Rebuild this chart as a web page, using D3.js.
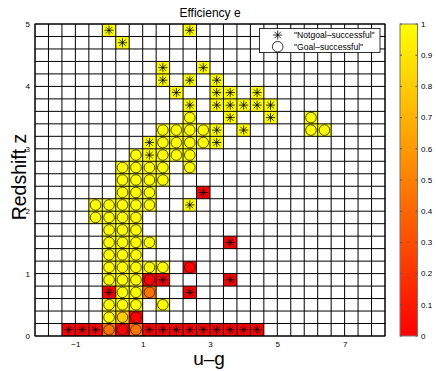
<!DOCTYPE html>
<html>
<head>
<meta charset="utf-8">
<script src="https://cdn.jsdelivr.net/npm/d3@7"></script>
<style>
  body { margin: 0; background: #fff; }
  text { font-family: "Liberation Sans", Arial, sans-serif; }
</style>
</head>
<body>
<div id="chart"></div>
<script>
// bin centres [u-g, z, efficiency]
const notgoalBins = [
    [0.0, 4.9, 1], [2.4, 4.9, 1],
    [0.4, 4.7, 1],
    [1.6, 4.3, 1], [2.8, 4.3, 1],
    [1.6, 4.1, 1], [2.4, 4.1, 1], [3.2, 4.1, 1],
    [2.0, 3.9, 1], [3.2, 3.9, 1], [3.6, 3.9, 1], [4.4, 3.9, 1],
    [2.4, 3.7, 1], [3.2, 3.7, 1], [3.6, 3.7, 1], [4.0, 3.7, 1], [4.4, 3.7, 1], [4.8, 3.7, 1],
    [3.6, 3.5, 1], [4.8, 3.5, 1],
    [3.2, 3.3, 1], [4.0, 3.3, 1],
    [1.2, 3.1, 1], [3.2, 3.1, 1],
    [1.2, 2.9, 1],
    [2.8, 2.3, 0],
    [2.4, 2.1, 1],
    [3.6, 1.5, 0],
    [1.6, 0.9, 0], [3.6, 0.9, 0],
    [0.0, 0.7, 0], [2.4, 0.7, 0],
    [-1.2, 0.1, 0], [-0.8, 0.1, 0], [-0.4, 0.1, 0], [1.2, 0.1, 0], [1.6, 0.1, 0], [2.0, 0.1, 0],
    [2.4, 0.1, 0], [2.8, 0.1, 0], [3.2, 0.1, 0], [3.6, 0.1, 0], [4.0, 0.1, 0], [4.4, 0.1, 0]
];

const goalBins = [
    [2.4, 3.5, 1], [6.0, 3.5, 1],
    [1.6, 3.3, 1], [2.0, 3.3, 1], [2.4, 3.3, 1], [2.8, 3.3, 1], [6.0, 3.3, 1], [6.4, 3.3, 1],
    [1.6, 3.1, 1], [2.0, 3.1, 1], [2.4, 3.1, 1], [2.8, 3.1, 1],
    [0.8, 2.9, 1], [1.6, 2.9, 1], [2.0, 2.9, 1], [2.4, 2.9, 1],
    [0.4, 2.7, 1], [0.8, 2.7, 1], [1.2, 2.7, 1], [1.6, 2.7, 1], [2.4, 2.7, 1],
    [0.4, 2.5, 1], [0.8, 2.5, 1], [1.2, 2.5, 1], [1.6, 2.5, 1],
    [0.4, 2.3, 1], [0.8, 2.3, 1], [1.2, 2.3, 1],
    [-0.4, 2.1, 1], [0.0, 2.1, 1], [0.4, 2.1, 1], [0.8, 2.1, 1], [1.2, 2.1, 1],
    [-0.4, 1.9, 1], [0.0, 1.9, 1], [0.4, 1.9, 1], [0.8, 1.9, 1],
    [0.0, 1.7, 1], [0.4, 1.7, 1], [0.8, 1.7, 1],
    [0.0, 1.5, 1], [0.4, 1.5, 1], [0.8, 1.5, 1], [1.2, 1.5, 1],
    [0.0, 1.3, 1], [0.4, 1.3, 1], [0.8, 1.3, 1],
    [0.0, 1.1, 1], [0.4, 1.1, 1], [0.8, 1.1, 1], [1.2, 1.1, 1], [1.6, 1.1, 1], [2.4, 1.1, 0],
    [0.0, 0.9, 1], [0.4, 0.9, 1], [0.8, 0.9, 1], [1.2, 0.9, 0],
    [0.4, 0.7, 1], [0.8, 0.7, 1], [1.2, 0.7, 0.45],
    [0.0, 0.5, 1], [0.4, 0.5, 1], [0.8, 0.5, 1], [1.6, 0.5, 1],
    [0.0, 0.3, 1], [0.4, 0.3, 0.8], [0.8, 0.3, 0],
    [0.0, 0.1, 0.45], [0.4, 0.1, 0], [0.8, 0.1, 0.45]
];

const xTicks = [-1, 1, 3, 5, 7];
const yTicks = [0, 1, 2, 3, 4, 5];
const cbTicks = [0, 0.1, 0.2, 0.3, 0.4, 0.5, 0.6, 0.7, 0.8, 0.9, 1];
const legendLabels = ['"Notgoal\u2013successful"', '"Goal\u2013successful"'];
const binW = 0.4, binH = 0.2;

const margin = { top: 24, right: 51, bottom: 35, left: 35 },
    width = 436 - margin.left - margin.right,
    height = 371 - margin.top - margin.bottom;

const svg = d3.select("#chart")
    .append("svg")
    .attr("width", 436)
    .attr("height", 371);

const g = svg.append("g")
    .attr("transform", `translate(${margin.left},${margin.top})`);

const x = d3.scaleLinear().domain([-2.2, 8.2]).range([0, width]);
const y = d3.scaleLinear().domain([0, 5]).range([height, 0]);
const color = d3.scaleLinear().domain([0, 1]).range(["#ff0000", "#ffff00"]);

// coloured bins
const allBins = notgoalBins.concat(goalBins);
g.selectAll("rect.bin")
    .data(allBins)
    .join("rect")
    .attr("class", "bin")
    .attr("x", d => x(d[0] - binW / 2))
    .attr("y", d => y(d[1] + binH / 2))
    .attr("width", x(binW) - x(0))
    .attr("height", y(0) - y(binH))
    .attr("fill", d => color(d[2]));

// grid
const xEdges = d3.range(0, 27).map(i => -2.2 + i * binW);
const yEdges = d3.range(0, 26).map(i => i * binH);

g.selectAll("line.vg")
    .data(xEdges)
    .join("line")
    .attr("x1", d => x(d)).attr("x2", d => x(d))
    .attr("y1", 0).attr("y2", height)
    .attr("stroke", "#000")
    .attr("stroke-width", 1);

g.selectAll("line.hg")
    .data(yEdges)
    .join("line")
    .attr("x1", 0).attr("x2", width)
    .attr("y1", d => y(d)).attr("y2", d => y(d))
    .attr("stroke", "#000")
    .attr("stroke-width", 1);

const star = r => {
    const a = r * Math.SQRT1_2;
    return `M${-r},0L${r},0M0,${-r}L0,${r}M${-a},${-a}L${a},${a}M${-a},${a}L${a},${-a}`;
};

g.selectAll("path.ng")
    .data(notgoalBins)
    .join("path")
    .attr("transform", d => `translate(${x(d[0])},${y(d[1])})`)
    .attr("d", star(4.6))
    .attr("fill", "none")
    .attr("stroke", "#000")
    .attr("stroke-width", 0.8);

g.selectAll("circle.gs")
    .data(goalBins)
    .join("circle")
    .attr("cx", d => x(d[0]))
    .attr("cy", d => y(d[1]))
    .attr("r", 5.3)
    .attr("fill", "none")
    .attr("stroke", "#222")
    .attr("stroke-width", 0.8);

// axes labels
g.append("g")
    .attr("transform", `translate(0,${height})`)
    .call(d3.axisBottom(x).tickValues(xTicks).tickFormat(d3.format("d")).tickSize(0).tickPadding(5))
    .call(a => a.select(".domain").remove())
    .selectAll("text")
    .style("font-size", "8px")
    .attr("font-family", null);

g.append("g")
    .call(d3.axisLeft(y).tickValues(yTicks).tickFormat(d3.format("d")).tickSize(0).tickPadding(5))
    .call(a => a.select(".domain").remove())
    .selectAll("text")
    .style("font-size", "8px")
    .attr("font-family", null);

g.append("rect")
    .attr("width", width)
    .attr("height", height)
    .attr("fill", "none")
    .attr("stroke", "#000")
    .attr("stroke-width", 1);

svg.append("text")
    .attr("x", margin.left + width / 2)
    .attr("y", 17)
    .attr("text-anchor", "middle")
    .style("font-size", "12px")
    .text("Efficiency e");

svg.append("text")
    .attr("x", margin.left + width / 2 - 1)
    .attr("y", 365)
    .attr("text-anchor", "middle")
    .style("font-size", "19px")
    .text("u\u2013g");

svg.append("text")
    .attr("transform", "translate(26,177) rotate(-90)")
    .attr("text-anchor", "middle")
    .style("font-size", "19.5px")
    .text("Redshift z");

// legend
const legend = svg.append("g").attr("transform", "translate(259.5,28.5)");
legend.append("rect")
    .attr("width", 120.5)
    .attr("height", 24)
    .attr("fill", "#fff")
    .attr("stroke", "#000")
    .attr("stroke-width", 0.8);
legend.append("path")
    .attr("transform", "translate(18.2,6.5)")
    .attr("d", star(4.6))
    .attr("stroke", "#000")
    .attr("stroke-width", 0.8);
legend.append("circle")
    .attr("cx", 18.2).attr("cy", 18.2).attr("r", 5.3)
    .attr("fill", "none")
    .attr("stroke", "#000")
    .attr("stroke-width", 0.8);
legend.selectAll("text.lg")
    .data(legendLabels)
    .join("text")
    .attr("x", 34.5)
    .attr("y", (d, i) => 9.5 + i * 11.5)
    .style("font-size", "8.6px")
    .text(d => d);

// colorbar
const cbX = 400, cbW = 17.5;
const cb = d3.scaleLinear().domain([0, 1]).range([margin.top + height, margin.top]);

const grad = svg.append("defs").append("linearGradient")
    .attr("id", "cbgrad")
    .attr("x1", 0).attr("y1", 1).attr("x2", 0).attr("y2", 0);
grad.selectAll("stop")
    .data(d3.range(0, 1.01, 0.1))
    .join("stop")
    .attr("offset", d => d)
    .attr("stop-color", d => color(d));

svg.append("rect")
    .attr("x", cbX)
    .attr("y", cb(1))
    .attr("width", cbW)
    .attr("height", cb(0) - cb(1))
    .attr("fill", "url(#cbgrad)")
    .attr("stroke", "#777")
    .attr("stroke-width", 1);

const cbTick = svg.append("g").selectAll("g")
    .data(cbTicks)
    .join("g")
    .attr("transform", d => `translate(0,${cb(d)})`);
cbTick.append("line")
    .attr("x1", cbX).attr("x2", cbX + 2)
    .attr("stroke", "#555");
cbTick.append("line")
    .attr("x1", cbX + cbW - 2).attr("x2", cbX + cbW)
    .attr("stroke", "#555");
cbTick.append("text")
    .attr("x", cbX + cbW + 3.5)
    .attr("dy", "0.35em")
    .style("font-size", "8px")
    .text(d => d);
</script>
</body>
</html>
